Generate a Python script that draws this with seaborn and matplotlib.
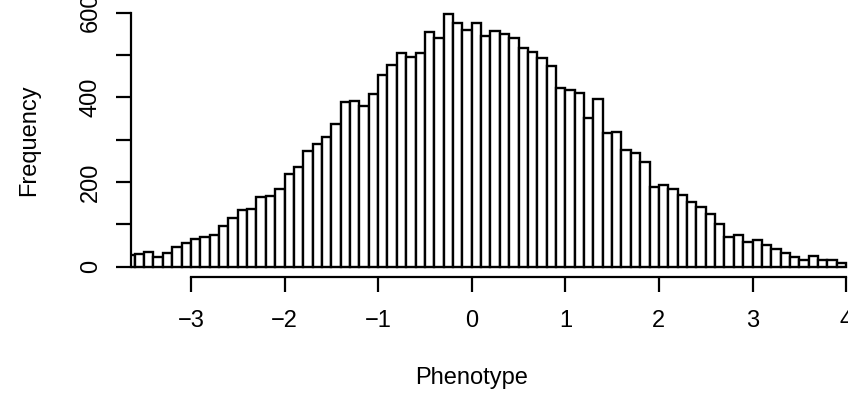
"""
R-style histogram of phenotype values.
"""
import numpy as np
import matplotlib.pyplot as plt
import seaborn as sns

# histogram bins (width 0.1) and their counts
bin_edges = [round(e, 2) for e in np.linspace(-3.7, 4.0, 78)]
counts = [28, 29, 34, 22, 32, 47, 57, 66, 70, 76,
          97, 115, 134, 136, 164, 168, 184, 220, 236, 274,
          289, 306, 337, 388, 391, 380, 409, 452, 476, 505,
          496, 504, 555, 541, 598, 575, 558, 575, 545, 556,
          550, 541, 517, 506, 492, 474, 422, 418, 410, 351,
          395, 315, 319, 276, 268, 247, 189, 192, 183, 169,
          152, 140, 124, 100, 70, 74, 59, 64, 51, 43,
          32, 24, 17, 26, 17, 16, 9]
x_ticks = [-3, -2, -1, 0, 1, 2, 3, 4]
y_ticks = [0, 100, 200, 300, 400, 500, 600]
y_tick_labels = ['0', '', '200', '', '400', '', '600']

sns.set_style('ticks')
plt.rcParams['font.family'] = ['Liberation Sans', 'DejaVu Sans']
plt.rcParams['text.color'] = 'black'

fig = plt.figure(figsize=(8.48, 4), dpi=100)
ax = fig.add_axes([131 / 848, 123 / 400, 717 / 848, 277 / 400])

centers = [(a + b) / 2 for a, b in zip(bin_edges[:-1], bin_edges[1:])]
sns.histplot(x=centers, weights=counts, bins=bin_edges, color='white',
             edgecolor='black', linewidth=1.7, alpha=1, ax=ax)

ax.set_xlim(-3.64, 4.02)
ax.set_ylim(-24.3, 630)
ax.set_xlabel('')
ax.set_ylabel('')

for side in ['top', 'right']:
    ax.spines[side].set_visible(False)
ax.spines['left'].set_bounds(0, 600)
ax.spines['bottom'].set_bounds(-3, 4)
for side in ['left', 'bottom']:
    ax.spines[side].set_color('black')
    ax.spines[side].set_linewidth(1.6)

ax.set_xticks(x_ticks)
ax.set_xticklabels(['\u2212' + str(-t) if t < 0 else str(t) for t in x_ticks])
ax.set_yticks(y_ticks)
ax.set_yticklabels(y_tick_labels)
ax.tick_params(length=11, width=1.6, direction='out',
               labelsize=17, colors='black')
ax.tick_params(axis='x', pad=13)
ax.tick_params(axis='y', pad=10)
for label in ax.get_yticklabels():
    label.set_rotation(90)
    label.set_va('center')

fig.text(29 / 848, 1 - 139.7 / 400, 'Frequency', rotation=90,
         ha='center', va='center', fontsize=17, color='black')
fig.text(471.5 / 848, 1 - 384 / 400, 'Phenotype',
         ha='center', va='baseline', fontsize=17, color='black')

plt.savefig('out.png', dpi=100)
